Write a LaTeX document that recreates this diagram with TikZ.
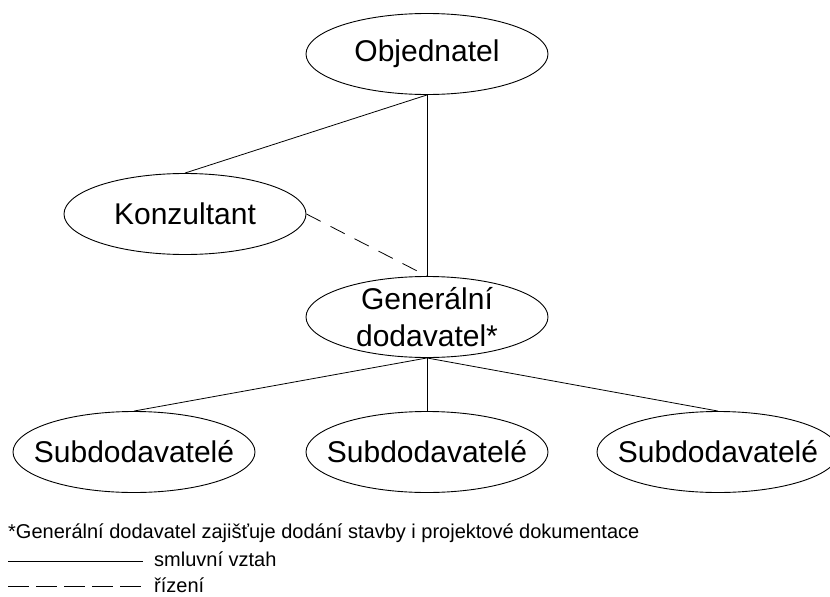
\documentclass[tikz,border=0pt]{standalone}
\usepackage{fontspec}
\setmainfont{Liberation Sans}
\usetikzlibrary{shapes.geometric}

\tikzset{
  party/.style={draw,ellipse,line width=0.9pt,minimum width=242pt,minimum height=81pt,
    inner xsep=-20pt,inner ysep=-12pt,align=center,font=\fontsize{30}{37}\selectfont},
  tie/.style={line width=0.8pt},
  lead/.style={line width=0.8pt,dash pattern=on 16pt off 11pt},
  keytext/.style={anchor=base west,inner sep=0pt,font=\fontsize{20}{24}\selectfont}
}

\begin{document}
\begin{tikzpicture}[x=1pt,y=1pt,yscale=-1,xscale=1]
\useasboundingbox (0,0) rectangle (830,597);
%Shape: Ellipse [id:objednatel]
\node [party] (obj) at (427,54) {Objednatel};
%Shape: Ellipse [id:konzultant]
\node [party] (konz) at (185,214) {Konzultant};
%Shape: Ellipse [id:generalni]
\node [party] (gen) at (427,317) {Generální\\dodavatel*};
%Shape: Ellipse [id:subdodavatele]
\node [party] (subA) at (134,452) {Subdodavatelé};
\node [party] (subB) at (427,452) {Subdodavatelé};
\node [party] (subC) at (718,452) {Subdodavatelé};
%Straight Lines
\draw [tie] (obj.south) -- (konz.north) ;
\draw [tie] (obj.south) -- (gen.north) ;
\draw [lead] (konz.east) -- (gen.north) ;
\draw [tie] (gen.south) -- (subA.north) ;
\draw [tie] (gen.south) -- (subB.north) ;
\draw [tie] (gen.south) -- (subC.north) ;
% Text Node
\node [keytext] (note) at (8,538) {*Generální dodavatel zajišťuje dodání stavby i projektové dokumentace};
%Legend lines
\coordinate (solidL) at (8,561);
\coordinate (solidR) at (143,561);
\coordinate (dashL) at (8,586);
\coordinate (dashR) at (143,586);
\draw [tie] (solidL) -- (solidR) ;
\draw [tie,dash pattern=on 21pt off 7pt] (dashL) -- (dashR) ;
% Text Node
\node [keytext] (smluv) at (154,566) {smluvní vztah};
% Text Node
\node [keytext] (rizeni) at (154,592) {řízení};
\end{tikzpicture}
\end{document}
